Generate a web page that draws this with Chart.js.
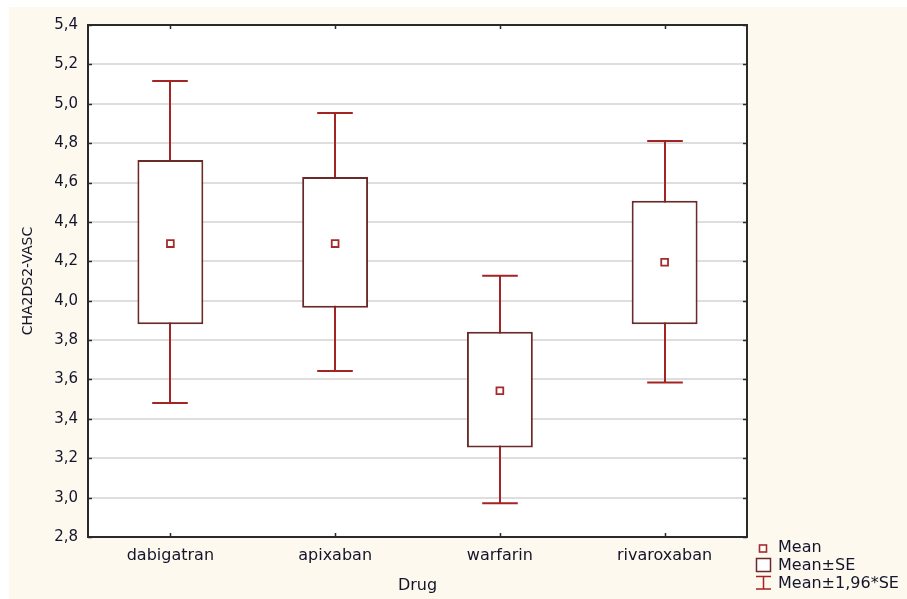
<!DOCTYPE html>
<html>
<head>
<meta charset="utf-8">
<script src="https://cdn.jsdelivr.net/npm/chart.js@4"></script>
<style>
  html, body { margin: 0; padding: 0; background: #fff; }
  #wrap { width: 907px; height: 599px; }
</style>
</head>
<body>
<div id="wrap"><canvas id="chart" width="907" height="599"></canvas></div>
<script>
// Values
const categories = ['dabigatran', 'apixaban', 'warfarin', 'rivaroxaban'];
const means = [4.29, 4.29, 3.543, 4.195];
const seLow = [3.881, 3.964, 3.255, 3.881];
const seHigh = [4.714, 4.628, 3.842, 4.508];
const ciLow = [3.48, 3.643, 2.972, 3.585];
const ciHigh = [5.116, 4.953, 4.127, 4.811];
const yMin = 2.8, yMax = 5.4, yStep = 0.2;

const font = 'DejaVu Sans';
const textColor = '#14142a';
const boxColor = '#6a2a2a';
const whiskerColor = '#a32424';
const meanColor = '#a52a2a';

const fmt = v => Number(v).toFixed(1).replace('.', ',');

// background, whiskers, frame and legend
const statPlugin = {
    id: 'statPlugin',
    beforeDraw(chart) {
        const c = chart.ctx, a = chart.chartArea;
        c.save();
        c.fillStyle = '#ffffff';
        c.fillRect(0, 0, chart.width, chart.height);
        c.fillStyle = '#fef9ef';
        c.fillRect(9, 7, chart.width - 9, chart.height - 7);
        c.fillStyle = '#ffffff';
        c.fillRect(a.left, a.top, a.right - a.left, a.bottom - a.top);
        c.restore();
    },
    beforeDatasetsDraw(chart) {
        const c = chart.ctx, xs = chart.scales.x, ys = chart.scales.y;
        const meta = chart.getDatasetMeta(1);
        c.save();
        c.strokeStyle = whiskerColor;
        c.lineWidth = 2;
        categories.forEach((cat, i) => {
            const px = Math.round(xs.getPixelForValue(i));
            const half = meta.data[i].width * 0.27;
            const top = ys.getPixelForValue(ciHigh[i]);
            const bot = ys.getPixelForValue(ciLow[i]);
            c.beginPath();
            c.moveTo(px, top); c.lineTo(px, bot);
            c.moveTo(px - half, top); c.lineTo(px + half, top);
            c.moveTo(px - half, bot); c.lineTo(px + half, bot);
            c.stroke();
        });
        c.restore();
    },
    afterDraw(chart) {
        const c = chart.ctx, a = chart.chartArea, xs = chart.scales.x, ys = chart.scales.y;
        c.save();
        // frame
        c.strokeStyle = '#2a2a2a';
        c.lineWidth = 2;
        c.strokeRect(a.left, a.top, a.right - a.left, a.bottom - a.top);
        // inward ticks
        c.lineWidth = 1.5;
        c.beginPath();
        ys.ticks.forEach(t => {
            const py = Math.round(ys.getPixelForValue(t.value)) + 0.5;
            c.moveTo(a.left, py); c.lineTo(a.left + 4, py);
            c.moveTo(a.right, py); c.lineTo(a.right - 4, py);
        });
        categories.forEach((cat, i) => {
            const px = Math.round(xs.getPixelForValue(i)) + 0.5;
            c.moveTo(px, a.bottom); c.lineTo(px, a.bottom - 4);
            c.moveTo(px, a.top); c.lineTo(px, a.top + 4);
        });
        c.stroke();

        // legend
        const lx = 756, tx = 778;
        c.font = '16px "' + font + '"';
        c.fillStyle = textColor;
        c.textBaseline = 'alphabetic';
        c.textAlign = 'left';
        c.fillText('Mean', tx, 552);
        c.fillText('Mean±SE', tx, 570);
        c.fillText('Mean±1,96*SE', tx, 588);

        c.strokeStyle = meanColor;
        c.fillStyle = '#fff';
        c.lineWidth = 1.6;
        c.fillRect(759.5, 545, 7, 7);
        c.strokeRect(759.5, 545, 7, 7);

        c.strokeStyle = boxColor;
        c.lineWidth = 1.5;
        c.fillRect(lx + 0.5, 558.5, 14, 13);
        c.strokeRect(lx + 0.5, 558.5, 14, 13);

        c.strokeStyle = whiskerColor;
        c.lineWidth = 1.5;
        c.beginPath();
        c.moveTo(lx, 576.5); c.lineTo(lx + 15, 576.5);
        c.moveTo(lx, 589); c.lineTo(lx + 15, 589);
        c.moveTo(lx + 7.5, 576.5); c.lineTo(lx + 7.5, 589);
        c.stroke();
        c.restore();
    }
};

const ctx = document.getElementById('chart').getContext('2d');
new Chart(ctx, {
    data: {
        labels: categories,
        datasets: [{
            type: 'line',
            label: 'Mean',
            data: means,
            showLine: false,
            pointStyle: 'rect',
            pointRadius: 4.8,
            pointHoverRadius: 4.8,
            pointBorderWidth: 1.8,
            pointBackgroundColor: '#ffffff',
            pointBorderColor: meanColor,
            order: 0
        }, {
            type: 'bar',
            label: 'Mean±SE',
            data: categories.map((cat, i) => [seLow[i], seHigh[i]]),
            backgroundColor: '#ffffff',
            borderColor: boxColor,
            borderWidth: 2,
            borderSkipped: false,
            barPercentage: 0.4,
            categoryPercentage: 1,
            order: 1
        }]
    },
    options: {
        responsive: false,
        animation: false,
        events: [],
        layout: {
            padding: { top: 25, right: 160, left: 0, bottom: 0 }
        },
        plugins: {
            legend: { display: false },
            tooltip: { enabled: false }
        },
        scales: {
            x: {
                type: 'category',
                offset: true,
                grid: { display: false, drawTicks: false },
                border: { display: false },
                ticks: {
                    padding: 9,
                    color: textColor,
                    font: { family: font, size: 16 }
                },
                title: {
                    display: true,
                    text: 'Drug',
                    color: textColor,
                    font: { family: font, size: 16 },
                    padding: { top: 0, bottom: 4 }
                },
                afterFit(scale) { scale.height = 62; }
            },
            y: {
                type: 'linear',
                min: yMin,
                max: yMax,
                grid: { color: '#dedede', lineWidth: 2, drawTicks: false },
                border: { display: false },
                ticks: {
                    stepSize: yStep,
                    padding: 10,
                    color: textColor,
                    font: { family: font, size: 15 },
                    callback: v => fmt(v)
                },
                title: {
                    display: true,
                    text: 'CHA2DS2-VASC',
                    color: textColor,
                    font: { family: font, size: 14 },
                    padding: { top: 20, bottom: 0 }
                },
                afterFit(scale) { scale.width = 88; }
            }
        }
    },
    plugins: [statPlugin]
});
</script>
</body>
</html>
